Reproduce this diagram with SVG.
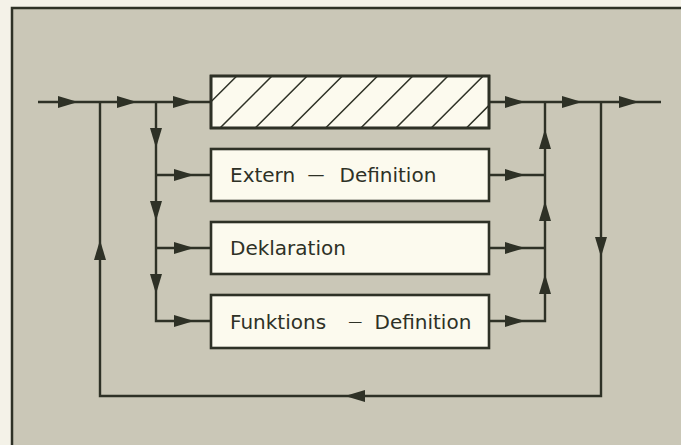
<svg xmlns="http://www.w3.org/2000/svg" xmlns:xlink="http://www.w3.org/1999/xlink" width="681" height="445" viewBox="0 0 681 445">
  <style>
    .bg { fill: #f4f2e8; }
    .panel { fill: #cac7b7; }
    .frame { fill: none; stroke: #2e3126; stroke-width: 2.5; }
    .box { fill: #fcfaee; stroke: #2e3126; stroke-width: 2.6; }
    .hatch { stroke: #2e3126; stroke-width: 1.5; fill: none; }
    .line { fill: none; stroke: #2e3126; stroke-width: 2.4; stroke-linejoin: miter; }
    .head { fill: #2e3126; }
    .lbl { font-family: "DejaVu Sans", sans-serif; font-size: 20px; fill: #2e3126; }
  </style>
  <defs>
    <path id="ah" d="M0,0 L-20,-6 L-20,6 Z"/>
    <clipPath id="hclip"><rect x="211" y="76" width="278" height="52"/></clipPath>
  </defs>

  <rect class="bg" x="0" y="0" width="681" height="445"/>
  <rect class="panel" x="12" y="8" width="669" height="437"/>
  <path class="frame" d="M12,445 L12,8 L681,8"/>

  <g id="connectors">
    <!-- main line -->
    <path class="line" d="M38,102 L211,102"/>
    <path class="line" d="M489,102 L661,102"/>
    <!-- loop -->
    <path class="line" d="M100,102 L100,396 L601,396 L601,102"/>
    <!-- branch left -->
    <path class="line" d="M156,102 L156,321 L211,321"/>
    <path class="line" d="M156,175 L211,175"/>
    <path class="line" d="M156,248 L211,248"/>
    <!-- merge right -->
    <path class="line" d="M489,321 L545,321 L545,102"/>
    <path class="line" d="M489,175 L545,175"/>
    <path class="line" d="M489,248 L545,248"/>

    <!-- arrowheads -->
    <g class="head">
      <use xlink:href="#ah" transform="translate(78,102)"/>
      <use xlink:href="#ah" transform="translate(137,102)"/>
      <use xlink:href="#ah" transform="translate(193,102)"/>
      <use xlink:href="#ah" transform="translate(525,102)"/>
      <use xlink:href="#ah" transform="translate(582,102)"/>
      <use xlink:href="#ah" transform="translate(639,102)"/>

      <use xlink:href="#ah" transform="translate(194,175)"/>
      <use xlink:href="#ah" transform="translate(194,248)"/>
      <use xlink:href="#ah" transform="translate(194,321)"/>

      <use xlink:href="#ah" transform="translate(525,175)"/>
      <use xlink:href="#ah" transform="translate(525,248)"/>
      <use xlink:href="#ah" transform="translate(525,321)"/>

      <use xlink:href="#ah" transform="translate(156,148) rotate(90)"/>
      <use xlink:href="#ah" transform="translate(156,221) rotate(90)"/>
      <use xlink:href="#ah" transform="translate(156,294) rotate(90)"/>

      <use xlink:href="#ah" transform="translate(545,129) rotate(-90)"/>
      <use xlink:href="#ah" transform="translate(545,201) rotate(-90)"/>
      <use xlink:href="#ah" transform="translate(545,274) rotate(-90)"/>

      <use xlink:href="#ah" transform="translate(100,240) rotate(-90)"/>
      <use xlink:href="#ah" transform="translate(601,257) rotate(90)"/>
      <use xlink:href="#ah" transform="translate(345,396) rotate(180)"/>
    </g>
  </g>

  <g id="node-hatched">
    <rect class="box" x="211" y="76" width="278" height="52"/>
    <g class="hatch" clip-path="url(#hclip)">
      <path d="M184.8,128 L236.8,76 M220,128 L272,76 M255.2,128 L307.2,76 M290.4,128 L342.4,76 M325.6,128 L377.6,76 M360.8,128 L412.8,76 M396,128 L448,76 M431.2,128 L483.2,76 M466.4,128 L518.4,76"/>
    </g>
    <rect x="211" y="76" width="278" height="52" fill="none" stroke="#2e3126" stroke-width="2.6"/>
  </g>

  <g id="node-extern">
    <rect class="box" x="211" y="149" width="278" height="52"/>
    <text class="lbl" x="230" y="182">Extern <tspan font-size="17" dx="6" dy="-2">—</tspan> <tspan dx="8.6" dy="2">Definition</tspan></text>
  </g>

  <g id="node-deklaration">
    <rect class="box" x="211" y="222" width="278" height="52"/>
    <text class="lbl" x="230" y="255">Deklaration</text>
  </g>

  <g id="node-funktions">
    <rect class="box" x="211" y="295" width="278" height="53"/>
    <text class="lbl" x="230" y="329">Funktions <tspan font-size="14" dx="15.9" dy="-3">—</tspan> <tspan dx="5.8" dy="3">Definition</tspan></text>
  </g>
</svg>
